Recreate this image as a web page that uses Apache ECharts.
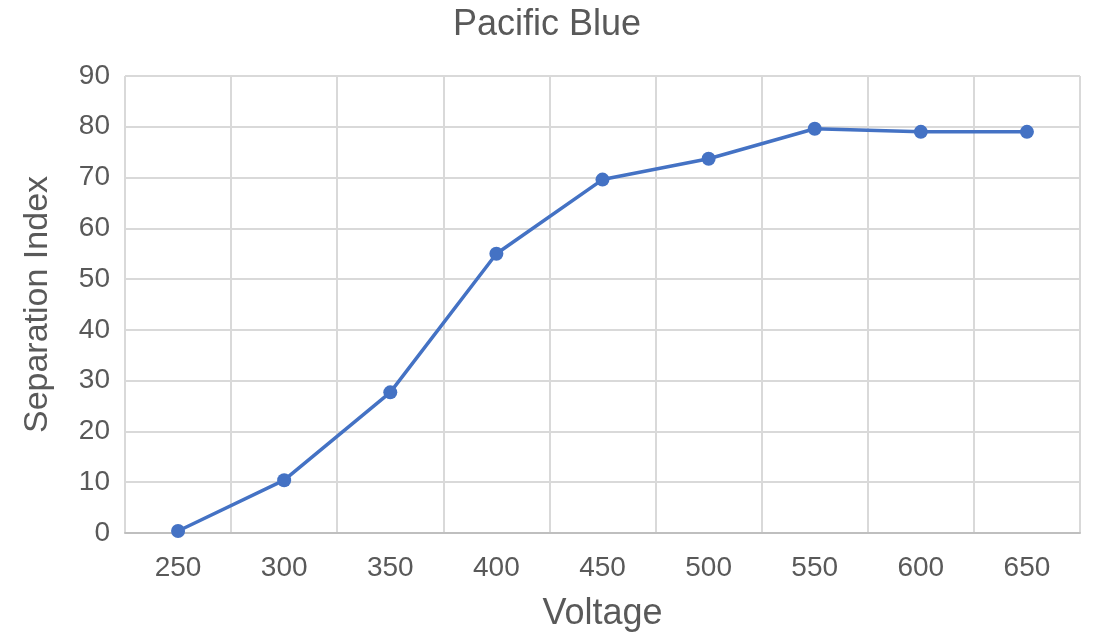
<!DOCTYPE html>
<html><head><meta charset="utf-8">
<script src="https://cdn.jsdelivr.net/npm/echarts@6/dist/echarts.min.js"></script>
<style>html,body{margin:0;padding:0;background:#fff}#c{width:1094px;height:637px}</style>
</head><body><div id="c"></div>
<script>
const categories = ['250','300','350','400','450','500','550','600','650'];
const values = [0.4, 10.4, 27.7, 55.0, 69.6, 73.7, 79.6, 79.0, 79.0];
const title = 'Pacific Blue';
const xName = 'Voltage';
const yName = 'Separation Index';
const FONT = '"Liberation Sans", Arial, sans-serif';
const chart = echarts.init(document.getElementById('c'));
chart.setOption({
  animation: false,
  backgroundColor: '#fff',
  title: { text: title, left: 'center', top: 2, textStyle: { fontFamily: FONT, fontSize: 36, fontWeight: 'normal', color: '#595959' } },
  grid: { left: 125, right: 14, top: 76, bottom: 104, containLabel: false },
  xAxis: {
    type: 'category', data: categories, boundaryGap: true,
    name: xName, nameLocation: 'middle', nameGap: 63,
    nameTextStyle: { fontFamily: FONT, fontSize: 36, color: '#595959' },
    axisLine: { show: true, lineStyle: { color: '#bfbfbf', width: 2 } },
    axisTick: { show: false },
    axisLabel: { fontFamily: FONT, fontSize: 28, color: '#595959', margin: 21 },
    splitLine: { show: true, lineStyle: { color: '#d9d9d9', width: 2 } }
  },
  yAxis: {
    type: 'value', min: 0, max: 90, interval: 10,
    name: yName, nameLocation: 'middle', nameGap: 70,
    nameTextStyle: { fontFamily: FONT, fontSize: 34, color: '#595959' },
    axisLine: { show: false }, axisTick: { show: false },
    axisLabel: { fontFamily: FONT, fontSize: 28, color: '#595959', margin: 15 },
    splitLine: { show: true, lineStyle: { color: '#d9d9d9', width: 2 } }
  },
  series: [{
    type: 'line', data: values, symbol: 'circle', symbolSize: 14,
    lineStyle: { color: '#4472c4', width: 3.5 },
    itemStyle: { color: '#4472c4' }
  }]
});
</script></body></html>
